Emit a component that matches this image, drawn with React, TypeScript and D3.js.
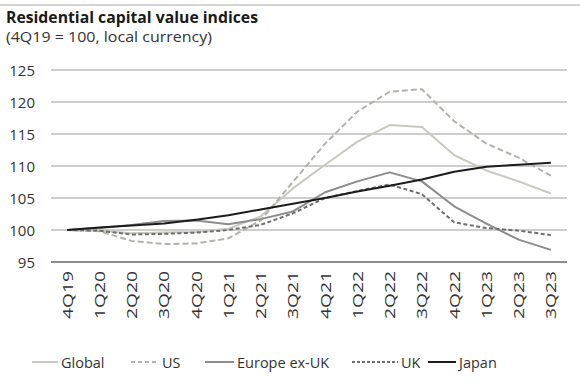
import React from "react";
import * as d3 from "d3";

const categories = ["4Q19","1Q20","2Q20","3Q20","4Q20","1Q21","2Q21","3Q21","4Q21","1Q22","2Q22","3Q22","4Q22","1Q23","2Q23","3Q23"];
const globalVals = [100, 99.9, 99.5, 99.6, 99.7, 100.2, 102.1, 106.5, 110.2, 113.8, 116.4, 116.1, 111.7, 109.3, 107.6, 105.7];
const usVals = [100, 99.8, 98.3, 97.8, 97.9, 98.7, 101.5, 107.5, 113.5, 118.5, 121.6, 122.0, 117.0, 113.5, 111.3, 108.5];
const europeVals = [100, 100.3, 100.8, 101.4, 101.5, 100.9, 101.7, 102.9, 105.9, 107.6, 109.0, 107.6, 103.7, 101.0, 98.5, 96.9];
const ukVals = [100, 99.9, 99.3, 99.4, 99.6, 100.0, 100.8, 102.6, 105.0, 106.1, 107.1, 105.6, 101.2, 100.3, 99.9, 99.2];
const japanVals = [100, 100.4, 100.7, 101.0, 101.6, 102.3, 103.2, 104.1, 105.0, 106.0, 106.9, 107.9, 109.1, 109.9, 110.2, 110.5];
const yTicks = [95, 100, 105, 110, 115, 120, 125];

const series = [
  { name: "Global", values: globalVals, color: "#c9c9bf", dash: "", legendDash: "", width: 2 },
  { name: "US", values: usVals, color: "#b3b3ab", dash: "6,3", legendDash: "4,3", width: 2 },
  { name: "Europe ex-UK", values: europeVals, color: "#8c8c8c", dash: "", legendDash: "", width: 2 },
  { name: "UK", values: ukVals, color: "#6e6e6e", dash: "4,2.5", legendDash: "3,2", width: 2 },
  { name: "Japan", values: japanVals, color: "#1c1c1c", dash: "", legendDash: "", width: 2 },
];

const legendPos = [
  { lx: 32, tx: 61 },
  { lx: 131, tx: 162 },
  { lx: 205, tx: 237 },
  { lx: 352, tx: 401 },
  { lx: 428, tx: 459 },
];

export default function App() {
  const W = 580, H = 382;
  const x = d3.scaleBand<string>().domain(categories).range([51, 567]);
  const y = d3.scaleLinear().domain([95, 125]).range([262, 70]);
  const cx = (c: string) => (x(c) as number) + x.bandwidth() / 2;
  const line = d3.line<number>().x((_, i) => cx(categories[i])).y((v) => y(v));
  const font = "'Open Sans', 'Noto Sans', sans-serif";

  return (
    <svg width={W} height={H} style={{ position: "absolute", left: 0, top: 0, background: "#fff" }} fontFamily={font}>
      <line x1={0} x2={W} y1={5} y2={5} stroke="#aaa" strokeWidth={1} />
      <text x={6} y={23} fontSize={15.5} fontWeight="bold" fill="#1a1a1a" textLength={252} lengthAdjust="spacingAndGlyphs">Residential capital value indices</text>
      <text x={6} y={42} fontSize={14.5} fill="#333" textLength={206} lengthAdjust="spacingAndGlyphs">(4Q19 = 100, local currency)</text>

      {yTicks.filter((t) => t !== 95).map((t) => (
        <line key={t} x1={51} x2={567} y1={y(t)} y2={y(t)} stroke="#9c9c9c" strokeWidth={1} />
      ))}
      <line x1={51} x2={567} y1={y(95)} y2={y(95)} stroke="#6a6a6a" strokeWidth={1.6} />
      {yTicks.map((t) => (
        <text key={t} x={35} y={y(t) + 5.5} fontSize={15} textAnchor="end" fill="#333">{t}</text>
      ))}
      {categories.map((c) => (
        <text key={c} transform={`translate(${cx(c) + 5.5},271) rotate(-90)`} fontSize={15} textAnchor="end" fill="#333" textLength={48} lengthAdjust="spacingAndGlyphs">{c}</text>
      ))}

      {series.map((s) => (
        <path key={s.name} d={line(s.values) || ""} fill="none" stroke={s.color} strokeWidth={s.width} strokeDasharray={s.dash} strokeLinejoin="round" />
      ))}

      {series.map((s, i) => (
        <g key={s.name}>
          <line x1={legendPos[i].lx} x2={legendPos[i].tx - 3} y1={362} y2={362} stroke={s.color} strokeWidth={2} strokeDasharray={s.legendDash} />
          <text x={legendPos[i].tx} y={367.5} fontSize={14.5} fill="#333">{s.name}</text>
        </g>
      ))}
    </svg>
  );
}
